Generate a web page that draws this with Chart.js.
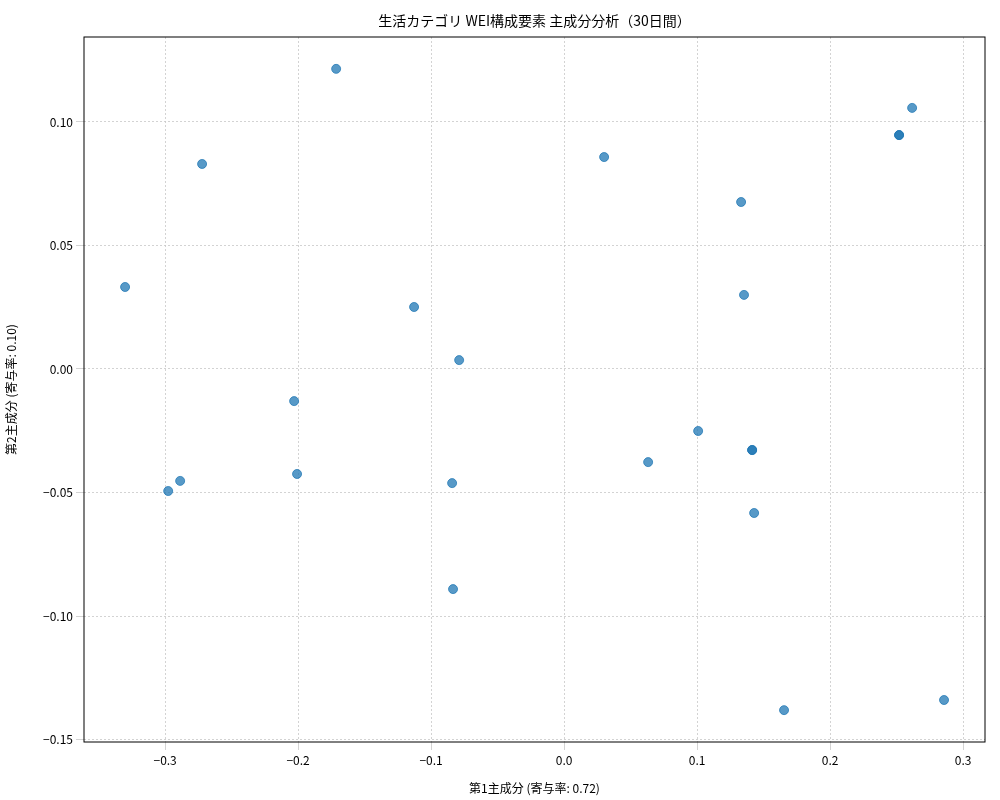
<!DOCTYPE html>
<html><head><meta charset="utf-8">
<script src="https://cdn.jsdelivr.net/npm/chart.js@4/dist/chart.umd.min.js"></script>
<style>body{margin:0;background:#fff}#c{display:block}</style>
</head><body>
<div style="width:1000px;height:800px"><canvas id="c"></canvas></div>
<script>
// 主成分スコア (第1主成分, 第2主成分)
var pc1 = [-0.1714, 0.2617, 0.2519, 0.2519, -0.2722, 0.0301, 0.1331, -0.3301, -0.1128, 0.1353, -0.0789, -0.2030,
           0.1008, 0.0632, 0.1414, 0.1414, -0.2008, -0.2887, -0.2977, -0.0842, 0.1429, -0.0835, 0.1654, 0.2857];
var pc2 = [0.1215, 0.1057, 0.0947, 0.0947, 0.0830, 0.0858, 0.0676, 0.0332, 0.0251, 0.0300, 0.0036, -0.0130,
           -0.0251, -0.0377, -0.0328, -0.0328, -0.0425, -0.0453, -0.0494, -0.0462, -0.0583, -0.0891, -0.1381, -0.1340];
var xTicks = [-0.3, -0.2, -0.1, 0.0, 0.1, 0.2, 0.3];
var yTicks = [-0.15, -0.10, -0.05, 0.00, 0.05, 0.10];

var font = "'Noto Sans CJK JP', 'DejaVu Sans', sans-serif";
Chart.defaults.font.family = font;
Chart.defaults.color = '#000';

function fmt(v, d) { return (v < 0 ? '\u2212' : '') + Math.abs(v).toFixed(d); }

var puntos = pc1.map(function (x, i) { return { x: x, y: pc2[i] }; });
var grid = { color: '#c8c8c8', lineWidth: 0.8 };
var borde = { display: false, dash: [2, 2] };

new Chart(document.getElementById('c'), {
    type: 'scatter',
    data: { datasets: [{ data: puntos, backgroundColor: 'rgba(31,119,180,0.75)', borderColor: 'rgba(31,119,180,0.75)', pointRadius: 4.5 }] },
    options: {
        responsive: true, maintainAspectRatio: false, animation: false,
        layout: { padding: { top: 37, right: 15 } },
        plugins: { legend: { display: false }, tooltip: { enabled: false } },
        scales: {
            x: {
                min: -0.361, max: 0.3165, grid: grid, border: borde,
                afterBuildTicks: function (s) { s.ticks = xTicks.map(function (v) { return { value: v }; }); },
                afterFit: function (s) { s.height = 58; },
                ticks: { font: { size: 12 }, callback: function (v) { return fmt(v, 1); } },
                title: { display: true, text: '第1主成分 (寄与率: 0.72)', font: { size: 12 }, padding: { top: 2 } }
            },
            y: {
                min: -0.151, max: 0.1344, grid: grid, border: borde,
                afterBuildTicks: function (s) { s.ticks = yTicks.map(function (v) { return { value: v }; }); },
                afterFit: function (s) { s.width = 84; },
                ticks: { font: { size: 12 }, callback: function (v) { return fmt(v, 2); } },
                title: { display: true, text: '第2主成分 (寄与率: 0.10)', font: { size: 12 } }
            }
        }
    },
    plugins: [{
        id: 'marco',
        afterDraw: function (chart) {
            var c = chart.ctx, a = chart.chartArea;
            c.save();
            c.strokeStyle = '#000'; c.lineWidth = 1;
            c.strokeRect(a.left, a.top, a.right - a.left, a.bottom - a.top);
            c.fillStyle = '#000'; c.font = '14px ' + font;
            c.textAlign = 'center'; c.textBaseline = 'middle';
            c.fillText('生活カテゴリ WEI構成要素 主成分分析（30日間）', (a.left + a.right) / 2, 21);
            c.restore();
        }
    }]
});
</script>
</body></html>
